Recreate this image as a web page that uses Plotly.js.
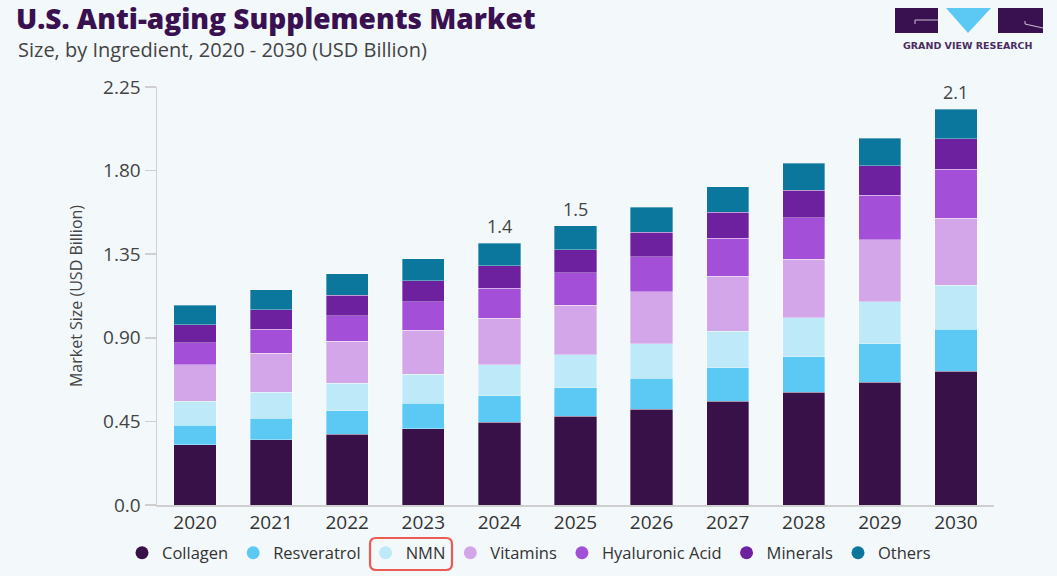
<!DOCTYPE html>
<html>
<head>
<meta charset="utf-8">
<script src="https://cdn.plot.ly/plotly-3.0.1.min.js"></script>
<style>
  html, body { margin: 0; padding: 0; background: #f3f8fb; }
  #chart { width: 1057px; height: 576px; }
</style>
</head>
<body>
<div id="chart"></div>
<script>
// data (USD Billion)
const years = ["2020","2021","2022","2023","2024","2025","2026","2027","2028","2029","2030"];
const collagen    = [0.323,0.351,0.382,0.410,0.445,0.477,0.515,0.558,0.606,0.660,0.720];
const resveratrol = [0.107,0.115,0.125,0.137,0.143,0.154,0.166,0.180,0.193,0.207,0.225];
const nmn         = [0.129,0.142,0.149,0.157,0.168,0.179,0.188,0.197,0.210,0.226,0.239];
const vitamins    = [0.197,0.209,0.226,0.237,0.249,0.264,0.280,0.296,0.314,0.335,0.359];
const hyaluronic  = [0.117,0.129,0.138,0.152,0.162,0.175,0.188,0.206,0.224,0.240,0.265];
const minerals    = [0.096,0.104,0.109,0.115,0.120,0.126,0.132,0.138,0.147,0.158,0.164];
const others      = [0.106,0.110,0.117,0.118,0.123,0.127,0.135,0.138,0.146,0.149,0.157];

const seriesNames = ["Collagen","Resveratrol","NMN","Vitamins","Hyaluronic Acid","Minerals","Others"];
const seriesColors = ["#371148","#5cc9f5","#bde9f8","#d3a6e9","#a44fd8","#6e219f","#0c779d"];
const seriesValues = [collagen, resveratrol, nmn, vitamins, hyaluronic, minerals, others];

const labelYears = ["2024","2025","2030"];
const labelText = ["1.4","1.5","2.1"];

const yTickVals = [0, 0.45, 0.9, 1.35, 1.8, 2.25];
const yTickText = ["0.0","0.45","0.90","1.35","1.80","2.25"];

// plot frame in pixels
const W = 1057, H = 576;
const ML = 157, MR = 63, MT = 87, MB = 71;
const PW = W - ML - MR, PH = H - MT - MB;
const px = x => (x - ML) / PW;
const py = y => (H - MB - y) / PH;

const FONT = "'Open Sans', 'Liberation Sans', Arial, sans-serif";

const traces = [];
seriesNames.forEach((name, i) => {
  traces.push({
    type: "bar",
    x: years,
    y: seriesValues[i],
    name: name,
    marker: { color: seriesColors[i], line: { color: "rgba(255,255,255,0.55)", width: 0.6 } },
    showlegend: false
  });
});
// legend entries with round symbols, on an invisible overlay axis pair
seriesNames.forEach((name, i) => {
  traces.push({
    type: "scatter",
    mode: "markers",
    x: [0],
    y: [null],
    xaxis: "x2",
    yaxis: "y2",
    name: name,
    marker: { color: seriesColors[i], size: 13, symbol: "circle" },
    showlegend: true,
    hoverinfo: "skip"
  });
});

const totals = years.map((_, j) => seriesValues.reduce((s, arr) => s + arr[j], 0));

const annotations = labelYears.map((yr, k) => ({
  x: years.indexOf(yr),
  y: totals[years.indexOf(yr)],
  xref: "x", yref: "y",
  text: labelText[k],
  showarrow: false,
  yanchor: "bottom",
  yshift: 3,
  font: { family: FONT, size: 18, color: "#444" }
}));

annotations.push({
  xref: "paper", yref: "paper",
  x: px(16), y: py(50),
  xanchor: "left", yanchor: "middle",
  text: "Size, by Ingredient, 2020 - 2030 (USD Billion)",
  showarrow: false,
  font: { family: FONT, size: 20, color: "#444" }
});
annotations.push({
  xref: "paper", yref: "paper",
  x: px(968), y: py(45),
  xanchor: "center", yanchor: "middle",
  text: "<b>GRAND VIEW RESEARCH</b>",
  showarrow: false,
  font: { family: "'DejaVu Sans', sans-serif", size: 9.5, color: "#4b2d61" }
});

// logo + NMN highlight
const shapes = [
  { type: "rect", xref: "paper", yref: "paper", x0: px(895), x1: px(938), y0: py(33), y1: py(8),
    fillcolor: "#3a1150", line: { width: 0 } },
  { type: "path", xref: "paper", yref: "paper",
    path: `M ${px(915)} ${py(24)} L ${px(915)} ${py(20)} L ${px(938)} ${py(20)}`,
    line: { color: "#c9bfd1", width: 1 } },
  { type: "path", xref: "paper", yref: "paper",
    path: `M ${px(946)} ${py(8)} L ${px(991)} ${py(8)} L ${px(968)} ${py(33)} Z`,
    fillcolor: "#5cc9f5", line: { width: 0 } },
  { type: "rect", xref: "paper", yref: "paper", x0: px(998), x1: px(1043), y0: py(33), y1: py(8),
    fillcolor: "#3a1150", line: { width: 0 } },
  { type: "path", xref: "paper", yref: "paper",
    path: `M ${px(1043)} ${py(28)} L ${px(1025)} ${py(24)} L ${px(1025)} ${py(21)}`,
    line: { color: "#c9bfd1", width: 1 } },
  { type: "path", xref: "paper", yref: "paper",
    path: `M ${px(376)} ${py(538)} L ${px(446)} ${py(538)} Q ${px(452)} ${py(538)} ${px(452)} ${py(544)} ` +
          `L ${px(452)} ${py(564)} Q ${px(452)} ${py(570)} ${px(446)} ${py(570)} ` +
          `L ${px(376)} ${py(570)} Q ${px(370)} ${py(570)} ${px(370)} ${py(564)} ` +
          `L ${px(370)} ${py(544)} Q ${px(370)} ${py(538)} ${px(376)} ${py(538)} Z`,
    line: { color: "#ec5b52", width: 2.2 } }
];

const layout = {
  width: W, height: H,
  margin: { l: ML, r: MR, t: MT, b: MB, autoexpand: false },
  paper_bgcolor: "#f3f8fb",
  plot_bgcolor: "#f3f8fb",
  barmode: "stack",
  bargap: 0.445,
  font: { family: FONT, color: "#333" },
  title: {
    text: "U.S. Anti-aging Supplements Market",
    xref: "container", yref: "container",
    x: 16 / W, xanchor: "left",
    y: 1 - 19 / H, yanchor: "middle",
    font: { family: FONT, size: 28, weight: 800, color: "#3a1150" }
  },
  xaxis: {
    type: "category",
    categoryorder: "array", categoryarray: years,
    range: [-0.5, years.length - 0.5],
    showline: true, linecolor: "#cfcfcf", linewidth: 1.5,
    showgrid: false, zeroline: false,
    ticks: "",
    tickfont: { family: FONT, size: 19, color: "#333" }
  },
  yaxis: {
    range: [0, 2.25],
    tickvals: yTickVals, ticktext: yTickText,
    showline: true, linecolor: "#cfcfcf", linewidth: 1.5,
    ticks: "outside", ticklen: 11, tickcolor: "#cfcfcf", tickwidth: 1.5,
    showgrid: false, zeroline: false,
    tickfont: { family: FONT, size: 19, color: "#444" },
    title: { text: "Market Size (USD Billion)", standoff: 16,
             font: { family: FONT, size: 16, color: "#444" } }
  },
  xaxis2: { visible: false, overlaying: "x", range: [0, 1] },
  yaxis2: { visible: false, overlaying: "y", range: [0, 1] },
  legend: {
    orientation: "h",
    traceorder: "normal",
    xref: "container", yref: "container",
    x: 529 / W, xanchor: "center",
    y: 1 - 553 / H, yanchor: "middle",
    font: { family: FONT, size: 16.5, color: "#333" },
    bgcolor: "rgba(0,0,0,0)"
  },
  annotations: annotations,
  shapes: shapes
};

Plotly.newPlot("chart", traces, layout, { displayModeBar: false, staticPlot: true });
</script>
</body>
</html>
